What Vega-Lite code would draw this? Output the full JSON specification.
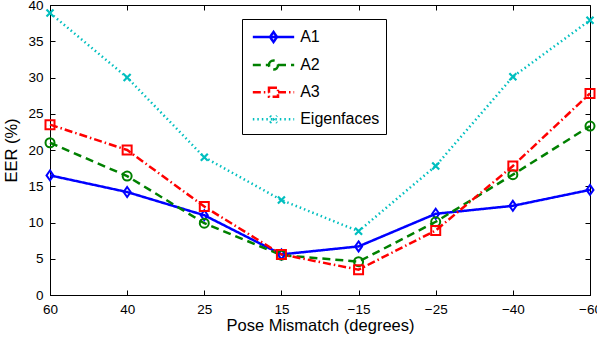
{
  "$schema": "https://vega.github.io/schema/vega-lite/v6.json",
  "width": 540,
  "height": 290,
  "autosize": {"type": "none"},
  "padding": {"left": 50, "top": 5, "right": 7, "bottom": 46},
  "background": "white",
  "config": {
    "font": "Liberation Sans",
    "view": {"stroke": "black", "strokeWidth": 1},
    "axis": {"grid": false, "domainColor": "black", "tickColor": "black", "labelColor": "black", "titleColor": "black", "labelFont": "Liberation Sans", "titleFont": "Liberation Sans", "titleFontWeight": "normal"}
  },
  "data": {
    "values": [
      {"series": "A1", "pose": "60", "eer": 16.5},
      {"series": "A1", "pose": "40", "eer": 14.2},
      {"series": "A1", "pose": "25", "eer": 11.0},
      {"series": "A1", "pose": "15", "eer": 5.6},
      {"series": "A1", "pose": "-15", "eer": 6.7},
      {"series": "A1", "pose": "-25", "eer": 11.2},
      {"series": "A1", "pose": "-40", "eer": 12.3},
      {"series": "A1", "pose": "-60", "eer": 14.5},
      {"series": "A2", "pose": "60", "eer": 21.0},
      {"series": "A2", "pose": "40", "eer": 16.4},
      {"series": "A2", "pose": "25", "eer": 9.9},
      {"series": "A2", "pose": "15", "eer": 5.5},
      {"series": "A2", "pose": "-15", "eer": 4.6},
      {"series": "A2", "pose": "-25", "eer": 10.1},
      {"series": "A2", "pose": "-40", "eer": 16.6},
      {"series": "A2", "pose": "-60", "eer": 23.3},
      {"series": "A3", "pose": "60", "eer": 23.5},
      {"series": "A3", "pose": "40", "eer": 20.0},
      {"series": "A3", "pose": "25", "eer": 12.2},
      {"series": "A3", "pose": "15", "eer": 5.6},
      {"series": "A3", "pose": "-15", "eer": 3.5},
      {"series": "A3", "pose": "-25", "eer": 8.9},
      {"series": "A3", "pose": "-40", "eer": 17.8},
      {"series": "A3", "pose": "-60", "eer": 27.8},
      {"series": "Eigenfaces", "pose": "60", "eer": 38.9},
      {"series": "Eigenfaces", "pose": "40", "eer": 30.0},
      {"series": "Eigenfaces", "pose": "25", "eer": 19.0},
      {"series": "Eigenfaces", "pose": "15", "eer": 13.1},
      {"series": "Eigenfaces", "pose": "-15", "eer": 8.8},
      {"series": "Eigenfaces", "pose": "-25", "eer": 17.8},
      {"series": "Eigenfaces", "pose": "-40", "eer": 30.1},
      {"series": "Eigenfaces", "pose": "-60", "eer": 37.9}
    ]
  },
  "resolve": {"axis": {"x": "independent", "y": "independent"}},
  "layer": [
    {
      "mark": {"type": "line"},
      "encoding": {
        "x": {
          "field": "pose", "type": "ordinal",
          "sort": ["60", "40", "25", "15", "-15", "-25", "-40", "-60"],
          "scale": {"type": "point", "padding": 0},
          "axis": {"orient": "bottom", "title": "Pose Mismatch (degrees)", "labelAngle": 0, "labelFontSize": 13.5, "titleFontSize": 16.5, "tickSize": -5, "labelPadding": 12, "titlePadding": 2, "labelExpr": "replace(datum.label, '-', '\u2212')"}
        },
        "y": {
          "field": "eer", "type": "quantitative",
          "scale": {"domain": [0, 40], "nice": false},
          "axis": {"orient": "left", "title": "EER (%)", "values": [0, 5, 10, 15, 20, 25, 30, 35, 40], "labelFontSize": 13.5, "titleFontSize": 16.5, "tickSize": -5, "labelPadding": 12, "titlePadding": 8}
        },
        "color": {
          "field": "series", "type": "nominal",
          "scale": {"domain": ["A1", "A2", "A3", "Eigenfaces"], "range": ["#0000FF", "#008000", "#FF0000", "#00BFBF"]},
          "legend": {
            "orient": "none", "legendX": 192, "legendY": 14, "title": null,
            "strokeColor": "black", "fillColor": "white", "padding": 6,
            "symbolSize": 441, "symbolOffset": 13.5, "labelOffset": 14.7, "rowPadding": 5.1,
            "labelFontSize": 16, "labelFont": "Liberation Sans", "labelColor": "black",
            "symbolStrokeWidth": 2,
            "encode": {
              "symbols": {
                "update": {
                  "shape": {"signal": "datum.value === 'A1' ? 'M-1.97,0H1.97M0,-0.48L0.33,0L0,0.48L-0.33,0Z' : datum.value === 'A2' ? 'M-1.97,0H-0.43M0.43,0H1.97M-0.43,0A0.43,0.43,0,1,1,0.43,0A0.43,0.43,0,1,1,-0.43,0Z' : datum.value === 'A3' ? 'M-1.97,0H-0.43M0.43,0H1.97M-0.43,-0.43H0.43V0.43H-0.43Z' : 'M-1.97,0H1.97M-0.33,-0.33L0.33,0.33M-0.33,0.33L0.33,-0.33'"},
                  "strokeDash": {"signal": "datum.value === 'A2' ? [8, 5] : datum.value === 'A3' ? [8, 3, 1.5, 3] : datum.value === 'Eigenfaces' ? [1.5, 3] : [1, 0]"},
                  "strokeWidth": {"signal": "datum.value === 'Eigenfaces' ? 1.5 : 2"},
                  "fill": {"value": "transparent"}
                }
              }
            }
          }
        },
        "strokeDash": {
          "field": "series", "type": "nominal",
          "scale": {"domain": ["A1", "A2", "A3", "Eigenfaces"], "range": [[1, 0], [8, 5], [8, 3, 1.5, 3], [1.5, 3]]},
          "legend": null
        },
        "strokeWidth": {
          "field": "series", "type": "nominal",
          "scale": {"domain": ["A1", "A2", "A3", "Eigenfaces"], "range": [2.5, 2.5, 2, 1.2]},
          "legend": null
        }
      }
    },
    {
      "transform": [{"filter": "datum.series === 'A1'"}],
      "mark": {"type": "point", "filled": false, "strokeWidth": 2, "size": 100, "opacity": 1, "shape": "M0,-1L0.7,0L0,1L-0.7,0Z"},
      "encoding": {
        "x": {"field": "pose", "type": "ordinal", "sort": ["60", "40", "25", "15", "-15", "-25", "-40", "-60"], "axis": null},
        "y": {"field": "eer", "type": "quantitative", "axis": null},
        "color": {"field": "series", "type": "nominal", "legend": null}
      }
    },
    {
      "transform": [{"filter": "datum.series === 'A2'"}],
      "mark": {"type": "point", "filled": false, "strokeWidth": 2, "size": 100, "opacity": 1, "shape": "M-0.9,0A0.9,0.9,0,1,1,0.9,0A0.9,0.9,0,1,1,-0.9,0Z"},
      "encoding": {
        "x": {"field": "pose", "type": "ordinal", "sort": ["60", "40", "25", "15", "-15", "-25", "-40", "-60"], "axis": null},
        "y": {"field": "eer", "type": "quantitative", "axis": null},
        "color": {"field": "series", "type": "nominal", "legend": null}
      }
    },
    {
      "transform": [{"filter": "datum.series === 'A3'"}],
      "mark": {"type": "point", "filled": false, "strokeWidth": 2, "size": 100, "opacity": 1, "shape": "M-0.9,-0.9H0.9V0.9H-0.9Z"},
      "encoding": {
        "x": {"field": "pose", "type": "ordinal", "sort": ["60", "40", "25", "15", "-15", "-25", "-40", "-60"], "axis": null},
        "y": {"field": "eer", "type": "quantitative", "axis": null},
        "color": {"field": "series", "type": "nominal", "legend": null}
      }
    },
    {
      "transform": [{"filter": "datum.series === 'Eigenfaces'"}],
      "mark": {"type": "point", "filled": false, "strokeWidth": 2.2, "size": 100, "opacity": 1, "shape": "M-0.7,-0.7L0.7,0.7M-0.7,0.7L0.7,-0.7"},
      "encoding": {
        "x": {"field": "pose", "type": "ordinal", "sort": ["60", "40", "25", "15", "-15", "-25", "-40", "-60"], "axis": null},
        "y": {"field": "eer", "type": "quantitative", "axis": null},
        "color": {"field": "series", "type": "nominal", "legend": null}
      }
    },
    {
      "mark": {"type": "point", "opacity": 0},
      "encoding": {
        "x": {"field": "pose", "type": "ordinal", "sort": ["60", "40", "25", "15", "-15", "-25", "-40", "-60"], "axis": {"orient": "top", "labels": false, "title": null, "tickSize": -5, "domain": false}},
        "y": {"field": "eer", "type": "quantitative", "axis": {"orient": "right", "labels": false, "title": null, "values": [0, 5, 10, 15, 20, 25, 30, 35, 40], "tickSize": -5, "domain": false}}
      }
    }
  ]
}
